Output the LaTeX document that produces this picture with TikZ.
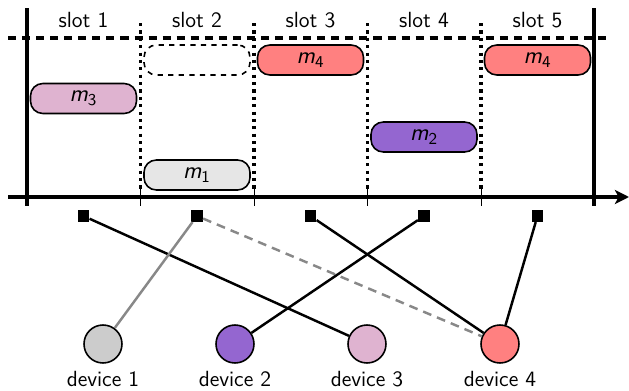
\documentclass[tikz,border=0pt]{standalone}
\usepackage{tikz}
\usepackage{xcolor}
\usetikzlibrary{positioning, arrows.meta}
\definecolor{MsgPink}{HTML}{DFB3D0}
\definecolor{MsgRed}{HTML}{FF8080}
\definecolor{MsgPurple}{HTML}{9466D0}
\definecolor{MsgGray}{HTML}{E6E6E6}
\definecolor{DevGray}{HTML}{CCCCCC}
\definecolor{LinkGray}{HTML}{888888}

\begin{document}
\begin{tikzpicture}[x=0.02cm, y=0.02cm,
  every node/.style={font=\sffamily\fontsize{12.5}{15}\selectfont},
  axisline/.style={line width=2pt},
  slotsep/.style={line width=2pt, dash pattern=on 1.8pt off 2.4pt},
  msg/.style={draw, line width=0.9pt, rounded corners=7pt, fill=#1,
    minimum width=2.12cm, minimum height=0.6cm,
    font=\sffamily\fontsize{13.5}{15}\selectfont},
  msg/.default={white},
  slotsq/.style={fill=black, minimum size=0.23cm, inner sep=0pt},
  dev/.style={draw, circle, line width=0.9pt, fill=#1, minimum size=0.76cm,
    inner sep=0pt},
  link/.style={line width=1.4pt}
]
  \useasboundingbox (0,0) rectangle (629,390);

  % Time axis and frame
  \draw[axisline, -{Stealth[length=8pt, width=8pt, inset=2pt]}] (8,193) -- (629,193);
  \draw[axisline, dash pattern=on 4.6pt off 3.4pt] (8,352) -- (606,352);
  \draw[axisline] (27,382) -- (27,184);
  \draw[axisline] (594,382) -- (594,184);

  % Slot boundaries
  \foreach \x in {140.5, 254, 367.5, 481} {
    \draw[slotsep] (\x,367) -- (\x,200);
    \draw[thin] (\x,204) -- (\x,184);
  }

  % Slot labels
  \foreach \i/\x in {1/83.5, 2/197, 3/310.5, 4/424, 5/537.5}
    \node (lab\i) at (\x,370) {slot \i};

  % Messages in the slots
  \node[msg=MsgPink] (m3) at (83.5,291.5) {\textsl{m}\textsubscript{3}};
  \node[msg, dashed] (m4a) at (197,330) {};
  \node[msg=MsgGray] (m1) at (197,215) {\textsl{m}\textsubscript{1}};
  \node[msg=MsgRed] (m4b) at (310.5,330) {\textsl{m}\textsubscript{4}};
  \node[msg=MsgPurple] (m2) at (424,253) {\textsl{m}\textsubscript{2}};
  \node[msg=MsgRed] (m4c) at (537.5,330) {\textsl{m}\textsubscript{4}};

  % Slot markers below the axis
  \node[slotsq] (s1) at (83.5,174) {};
  \node[slotsq] (s2) at (197,174) {};
  \node[slotsq] (s3) at (310.5,174) {};
  \node[slotsq] (s4) at (424,174) {};
  \node[slotsq] (s5) at (537.5,174) {};

  % Devices
  \node[dev=DevGray] (d1) at (103,46) {};
  \node[dev=MsgPurple] (d2) at (235,46) {};
  \node[dev=MsgPink] (d3) at (367,46) {};
  \node[dev=MsgRed] (d4) at (500,46) {};
  \node[below=0.02cm of d1] (n1) {device 1};
  \node[below=0.02cm of d2] (n2) {device 2};
  \node[below=0.02cm of d3] (n3) {device 3};
  \node[below=0.02cm of d4] (n4) {device 4};

  % Links slot -> device
  \draw[link] (s1) -- (d3);
  \draw[link, LinkGray] (s2) -- (d1);
  \draw[link, LinkGray, dash pattern=on 5pt off 3.5pt] (s2) -- (d4);
  \draw[link] (s3) -- (d4);
  \draw[link] (s4) -- (d2);
  \draw[link] (s5) -- (d4);
\end{tikzpicture}
\end{document}
